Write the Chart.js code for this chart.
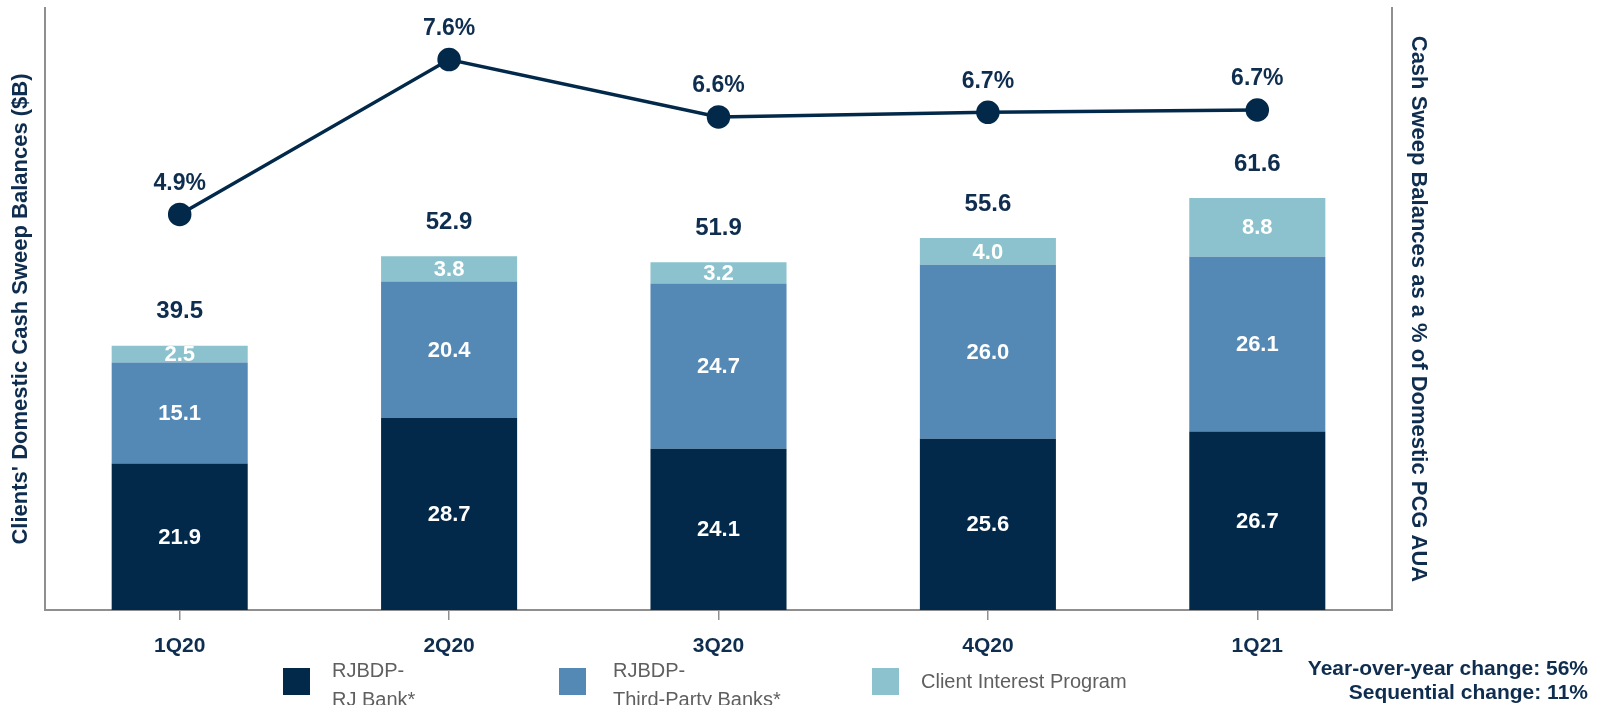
<!DOCTYPE html>
<html>
<head>
<meta charset="utf-8">
<script src="https://cdn.jsdelivr.net/npm/chart.js@4.4.1/dist/chart.umd.min.js"></script>
<style>
  html, body { margin: 0; padding: 0; background: #ffffff; }
  #wrap { position: relative; width: 1602px; height: 705px; overflow: hidden; font-family: "Liberation Sans", Arial, sans-serif; }
  #c { position: absolute; left: 0; top: 0; }
  .lg-box { position: absolute; width: 27px; height: 27px; }
  .lg-txt { position: absolute; font-size: 20px; line-height: 29px; color: #5f5f5f; white-space: nowrap; }
  #notes { position: absolute; right: 14px; top: 656px; text-align: right; font-size: 21px; line-height: 24px; font-weight: bold; color: #0e2d4f; white-space: nowrap; }
</style>
</head>
<body>
<div id="wrap">
  <canvas id="c" width="1602" height="705"></canvas>
  <div class="lg-box" style="left:283px; top:668px; background:#03294a;"></div>
  <div class="lg-txt" style="left:332px; top:656px;">RJBDP-<br>RJ Bank*</div>
  <div class="lg-box" style="left:559px; top:668px; background:#5488b5;"></div>
  <div class="lg-txt" style="left:613px; top:656px;">RJBDP-<br>Third-Party Banks*</div>
  <div class="lg-box" style="left:872px; top:668px; background:#8cc2cd;"></div>
  <div class="lg-txt" style="left:921px; top:667px;">Client Interest Program</div>
  <div id="notes">Year-over-year change: 56%<br>Sequential change: 11%</div>
</div>
<script>
const categories = ['1Q20', '2Q20', '3Q20', '4Q20', '1Q21'];
const rjBank = [21.9, 28.7, 24.1, 25.6, 26.7];
const thirdPartyBanks = [15.1, 20.4, 24.7, 26.0, 26.1];
const clientInterest = [2.5, 3.8, 3.2, 4.0, 8.8];
const totals = [39.5, 52.9, 51.9, 55.6, 61.6];
const pctOfAUA = [4.9, 7.6, 6.6, 6.68, 6.72];

const NAVY = '#03294a';
const TEXT_NAVY = '#0e2d4f';
const AXIS_GRAY = '#8f8f8f';
const FONT = '"Liberation Sans", Arial, sans-serif';

const labelPlugin = {
  id: 'valueLabels',
  afterDatasetsDraw(chart) {
    const ctx = chart.ctx;
    ctx.save();
    ctx.textAlign = 'center';
    ctx.textBaseline = 'middle';
    [0, 1, 2].forEach(di => {
      const meta = chart.getDatasetMeta(di);
      const ds = chart.data.datasets[di];
      ctx.font = 'bold 22px ' + FONT;
      ctx.fillStyle = '#ffffff';
      meta.data.forEach((el, i) => {
        const y = (el.y + el.base) / 2;
        ctx.fillText(ds.data[i].toFixed(1), el.x, y + 1);
      });
    });
    const topMeta = chart.getDatasetMeta(2);
    ctx.font = 'bold 24px ' + FONT;
    ctx.fillStyle = TEXT_NAVY;
    topMeta.data.forEach((el, i) => {
      ctx.fillText(totals[i].toFixed(1), el.x, el.y - 34);
    });
    const lineMeta = chart.getDatasetMeta(3);
    ctx.font = 'bold 23px ' + FONT;
    lineMeta.data.forEach((el, i) => {
      ctx.fillText(pctOfAUA[i].toFixed(1) + '%', el.x, el.y - 31);
    });
    ctx.restore();
  }
};

new Chart(document.getElementById('c'), {
  data: {
    labels: categories,
    datasets: [
      { type: 'bar', label: 'RJBDP- RJ Bank*', data: rjBank, backgroundColor: '#03294a', stack: 's', yAxisID: 'y', order: 2, categoryPercentage: 1, barPercentage: 0.505 },
      { type: 'bar', label: 'RJBDP- Third-Party Banks*', data: thirdPartyBanks, backgroundColor: '#5488b5', stack: 's', yAxisID: 'y', order: 2, categoryPercentage: 1, barPercentage: 0.505 },
      { type: 'bar', label: 'Client Interest Program', data: clientInterest, backgroundColor: '#8cc2cd', stack: 's', yAxisID: 'y', order: 2, categoryPercentage: 1, barPercentage: 0.505 },
      { type: 'line', label: 'Cash Sweep Balances as a % of Domestic PCG AUA', data: pctOfAUA, yAxisID: 'y2', order: 0,
        borderColor: NAVY, backgroundColor: NAVY, borderWidth: 3.5, pointRadius: 10, pointBackgroundColor: NAVY, pointBorderColor: NAVY, tension: 0, fill: false, clip: false }
    ]
  },
  options: {
    responsive: false,
    animation: false,
    events: [],
    layout: { autoPadding: false, padding: { left: 0, right: 0, top: 8, bottom: 0 } },
    plugins: { legend: { display: false }, tooltip: { enabled: false }, title: { display: false } },
    scales: {
      x: {
        stacked: true,
        grid: { display: true, drawOnChartArea: false, drawTicks: true, tickLength: 10, color: AXIS_GRAY, lineWidth: 1.5, offset: false },
        border: { display: true, color: AXIS_GRAY, width: 2 },
        ticks: { color: TEXT_NAVY, font: { family: FONT, size: 21, weight: 'bold' }, padding: 14 },
        afterFit(scale) { scale.height = 95; }
      },
      y: {
        stacked: true, min: 0, max: 90, position: 'left',
        grid: { display: false },
        border: { display: true, color: AXIS_GRAY, width: 2 },
        ticks: { display: false },
        title: { display: true, text: "Clients' Domestic Cash Sweep Balances ($B)", color: TEXT_NAVY, font: { family: FONT, size: 22, weight: 'bold' }, padding: { top: 8, bottom: 0 } },
        afterFit(scale) { scale.width = 45; }
      },
      y2: {
        min: -2, max: 8.5, position: 'right',
        grid: { display: false },
        border: { display: true, color: AXIS_GRAY, width: 2 },
        ticks: { display: false },
        title: { display: true, text: 'Cash Sweep Balances as a % of Domestic PCG AUA', color: TEXT_NAVY, font: { family: FONT, size: 22, weight: 'bold' }, padding: { top: 171, bottom: 0 } },
        afterFit(scale) { scale.width = 210; }
      }
    }
  },
  plugins: [labelPlugin]
});
</script>
</body>
</html>
